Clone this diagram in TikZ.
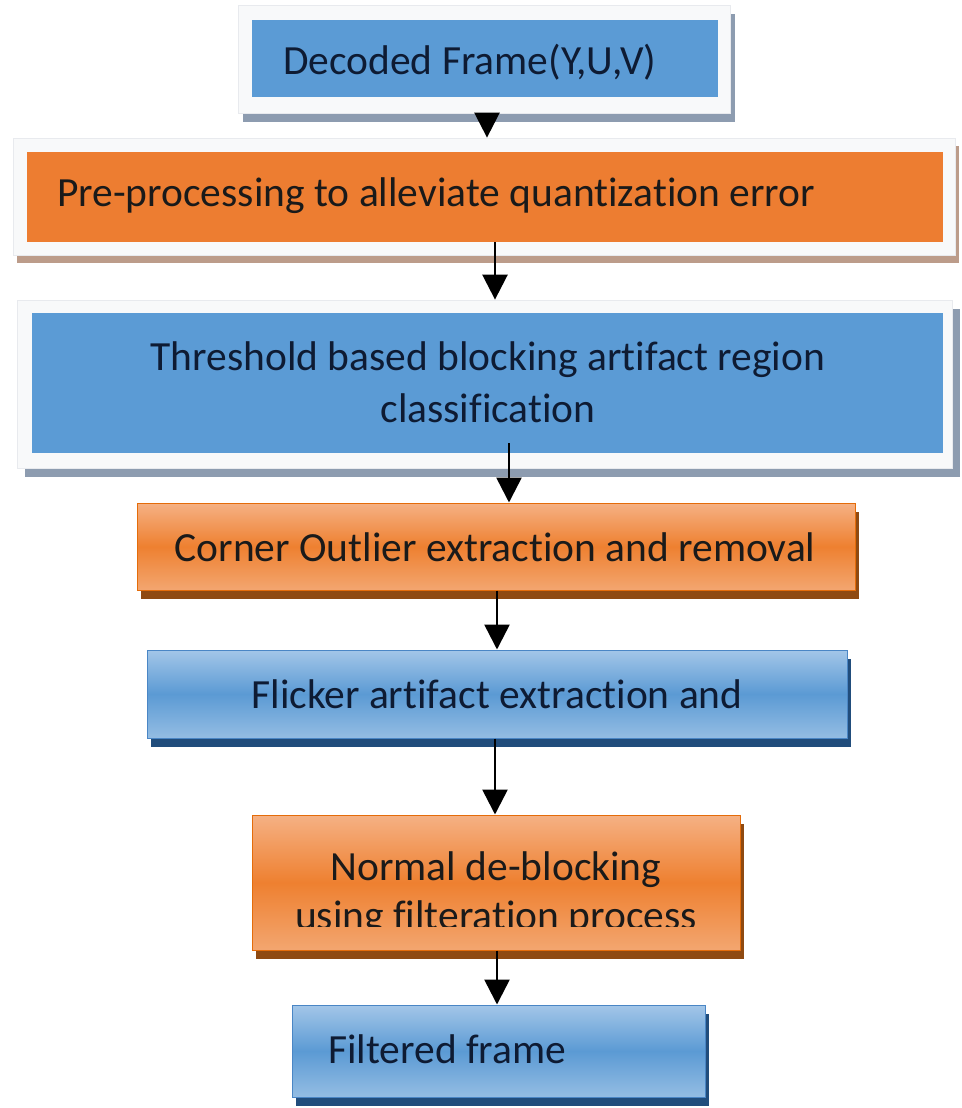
\documentclass[tikz,border=0pt]{standalone}
\usepackage{fontspec}
\setmainfont{Carlito}[Ligatures=CommonOff]
\usetikzlibrary{arrows.meta,shadows}
\definecolor{blueA}{HTML}{5B9BD5}
\definecolor{orangeA}{HTML}{ED7D31}
\definecolor{frameW}{HTML}{F8F9FA}
\definecolor{frameB}{HTML}{E8EAEE}
\definecolor{shGray}{HTML}{8D9CB0}
\definecolor{shBrown}{HTML}{BC9C8A}
\definecolor{oTop}{HTML}{F5B184}
\definecolor{oMid}{HTML}{EE8030}
\definecolor{oBot}{HTML}{F3A670}
\definecolor{oEdge}{HTML}{E46C0A}
\definecolor{oShadow}{HTML}{8F4A12}
\definecolor{bTop}{HTML}{A3C6E8}
\definecolor{bMid}{HTML}{5B9AD4}
\definecolor{bBot}{HTML}{94BDE3}
\definecolor{bEdge}{HTML}{4A86C5}
\definecolor{bShadow}{HTML}{214D7C}
\definecolor{txtBlue}{HTML}{0E1B33}
\definecolor{txtDark}{HTML}{1A1A1A}
\begin{document}
\begin{tikzpicture}[x=1pt,y=-1pt,
  frame/.style={draw=frameB, fill=frameW, line width=0.8pt, inner sep=0pt},
  solidbox/.style={inner sep=0pt},
  ogradbox/.style={inner sep=0pt, top color=oTop, bottom color=oBot, middle color=oMid, draw=oEdge, line width=1pt,
     drop shadow={shadow xshift=4pt, shadow yshift=-9pt, fill=oShadow, opacity=1}},
  bgradbox/.style={inner sep=0pt, top color=bTop, bottom color=bBot, middle color=bMid, draw=bEdge, line width=1pt,
     drop shadow={shadow xshift=4pt, shadow yshift=-9pt, fill=bShadow, opacity=1}},
  lbl/.style={inner sep=0pt, text height=27pt, text depth=0pt, font=\fontsize{41.5}{52}\selectfont},
  arr/.style={line width=2.6pt, -{Triangle[width=25pt,length=25pt]}}]
\useasboundingbox (0,0) rectangle (961,1108);
\fill[white] (0,0) rectangle (961,1108);

% Box 1
\node[frame, minimum width=492pt, minimum height=108pt,
  drop shadow={shadow xshift=5pt, shadow yshift=-9pt, fill=shGray, opacity=1}] (f1) at (484,59) {};
\node[solidbox, fill=blueA, minimum width=466pt, minimum height=77pt] (b1) at (485,58.5) {};
\node[lbl, anchor=west, text=txtBlue] (t1) at (283,61) {Decoded Frame(Y,U,V)};

% Box 2
\node[frame, minimum width=942pt, minimum height=117pt,
  drop shadow={shadow xshift=4pt, shadow yshift=-8pt, fill=shBrown, opacity=1}] (f2) at (484,196.5) {};
\node[solidbox, fill=orangeA, minimum width=916pt, minimum height=90pt] (b2) at (485,197) {};
\node[lbl, anchor=west, text=txtDark] (t2) at (57,193) {Pre-processing to alleviate quantization error};

% Box 3
\node[frame, minimum width=935pt, minimum height=168pt,
  drop shadow={shadow xshift=8pt, shadow yshift=-9pt, fill=shGray, opacity=1}] (f3) at (484.5,384) {};
\node[solidbox, fill=blueA, minimum width=911pt, minimum height=140pt] (b3) at (487.5,383) {};
\node[lbl, align=center, text=txtBlue] (t3) at (488,409) {Threshold based blocking artifact region\\classification};

% Box 4
\node[ogradbox, minimum width=718pt, minimum height=87pt] (b4) at (496,546.5) {};
\node[lbl, text=txtDark] (t4) at (495,548) {Corner Outlier extraction and removal};

% Box 5
\node[bgradbox, minimum width=700pt, minimum height=88pt] (b5) at (497,694) {};
\node[lbl, text=txtBlue] (t5) at (497,695) {Flicker artifact extraction and};

% Box 6
\node[ogradbox, minimum width=488pt, minimum height=135pt] (b6) at (496,882.5) {};
\begin{scope}
\clip (252,815) rectangle (740,926);
\node[lbl, align=center, font=\fontsize{41.5}{49}\selectfont, text=txtDark] (t6) at (496,916) {Normal de-blocking\\using filteration process};
\end{scope}

% Box 7
\node[bgradbox, minimum width=413pt, minimum height=92pt] (b7) at (498.5,1051) {};
\node[lbl, anchor=west, text=txtBlue] (t7) at (328,1050) {Filtered frame};

% Connectors
\draw[arr] ([xshift=3pt]f1.south) -- ([xshift=3pt]f2.north);
\draw[arr] ([xshift=10pt]b2.south) -- ([xshift=10.5pt]f3.north);
\draw[arr] ([xshift=21.5pt,yshift=10pt]b3.south) -- ([xshift=13pt]b4.north);
\draw[arr] ([xshift=1pt]b4.south) -- ([xshift=0pt]b5.north);
\draw[arr] ([xshift=-2pt]b5.south) -- ([xshift=-1pt]b6.north);
\draw[arr] ([xshift=1pt]b6.south) -- ([xshift=-1.5pt]b7.north);
\end{tikzpicture}
\end{document}
